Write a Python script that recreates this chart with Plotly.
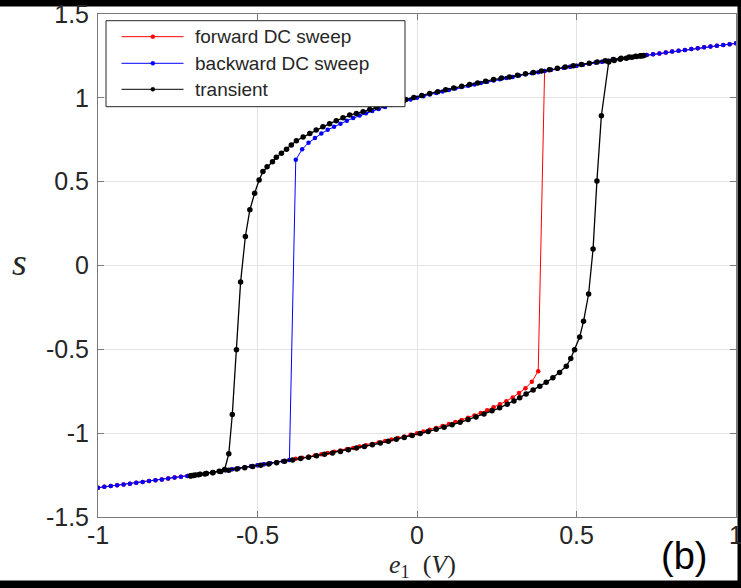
import plotly.graph_objects as go

# ---------------------------------------------------------------- data
# DC sweep input voltage e1 (V)
SWEEP_V = [
    -1.00, -0.98, -0.96, -0.94, -0.92, -0.90, -0.88, -0.86, -0.84, -0.82,
    -0.80, -0.78, -0.76, -0.74, -0.72, -0.70, -0.68, -0.66, -0.64, -0.62,
    -0.60, -0.58, -0.56, -0.54, -0.52, -0.50, -0.48, -0.46, -0.44, -0.42,
    -0.40, -0.38, -0.36, -0.34, -0.32, -0.30, -0.28, -0.26, -0.24, -0.22,
    -0.20, -0.18, -0.16, -0.14, -0.12, -0.10, -0.08, -0.06, -0.04, -0.02,
    0.00, 0.02, 0.04, 0.06, 0.08, 0.10, 0.12, 0.14, 0.16, 0.18,
    0.20, 0.22, 0.24, 0.26, 0.28, 0.30, 0.32, 0.34, 0.36, 0.38,
    0.40, 0.42, 0.44, 0.46, 0.48, 0.50, 0.52, 0.54, 0.56, 0.58,
    0.60, 0.62, 0.64, 0.66, 0.68, 0.70, 0.72, 0.74, 0.76, 0.78,
    0.80, 0.82, 0.84, 0.86, 0.88, 0.90, 0.92, 0.94, 0.96, 0.98, 1.00,
]

# state s along the forward sweep (e1 rising from -1 to 1)
FWD_S = [
    -1.325, -1.320, -1.315, -1.311, -1.306, -1.301, -1.296, -1.291, -1.286, -1.281,
    -1.276, -1.270, -1.265, -1.260, -1.255, -1.249, -1.244, -1.238, -1.233, -1.227,
    -1.221, -1.215, -1.210, -1.204, -1.198, -1.192, -1.185, -1.179, -1.173, -1.167,
    -1.160, -1.153, -1.146, -1.140, -1.133, -1.125, -1.118, -1.111, -1.104, -1.096,
    -1.088, -1.080, -1.072, -1.064, -1.056, -1.047, -1.038, -1.029, -1.020, -1.010,
    -1.000, -0.990, -0.979, -0.969, -0.957, -0.946, -0.934, -0.921, -0.908, -0.894,
    -0.879, -0.863, -0.846, -0.828, -0.809, -0.787, -0.761, -0.732, -0.693, -0.630,
    1.160, 1.167, 1.173, 1.179, 1.185, 1.192, 1.198, 1.204, 1.210, 1.215,
    1.221, 1.227, 1.233, 1.238, 1.244, 1.249, 1.255, 1.260, 1.265, 1.270,
    1.276, 1.281, 1.286, 1.291, 1.296, 1.301, 1.306, 1.311, 1.315, 1.320, 1.325,
]

# state s along the backward sweep (e1 falling from 1 to -1)
BWD_S = [
    1.325, 1.320, 1.315, 1.311, 1.306, 1.301, 1.296, 1.291, 1.286, 1.281,
    1.276, 1.270, 1.265, 1.260, 1.255, 1.249, 1.244, 1.238, 1.233, 1.227,
    1.221, 1.215, 1.210, 1.204, 1.198, 1.192, 1.185, 1.179, 1.173, 1.167,
    1.160, 1.153, 1.146, 1.140, 1.133, 1.125, 1.118, 1.111, 1.104, 1.096,
    1.088, 1.080, 1.072, 1.064, 1.056, 1.047, 1.038, 1.029, 1.020, 1.010,
    1.000, 0.990, 0.979, 0.969, 0.957, 0.946, 0.934, 0.921, 0.908, 0.894,
    0.879, 0.863, 0.846, 0.828, 0.809, 0.787, 0.761, 0.732, 0.693, 0.630,
    -1.160, -1.167, -1.173, -1.179, -1.185, -1.192, -1.198, -1.204, -1.210, -1.215,
    -1.221, -1.227, -1.233, -1.238, -1.244, -1.249, -1.255, -1.260, -1.265, -1.270,
    -1.276, -1.281, -1.286, -1.291, -1.296, -1.301, -1.306, -1.311, -1.315, -1.320, -1.325,
]

# transient simulation: one full cycle of the sinusoidal input
TRANS_E = [
    -0.710, -0.700, -0.685, -0.665, -0.640, -0.615, -0.590, -0.565, -0.540, -0.515,
    -0.490, -0.465, -0.440, -0.415, -0.390, -0.365, -0.340, -0.315, -0.290, -0.265,
    -0.240, -0.215, -0.190, -0.165, -0.140, -0.115, -0.090, -0.065, -0.040, -0.015,
    0.010, 0.035, 0.060, 0.085, 0.110, 0.135, 0.160, 0.185, 0.210, 0.235,
    0.259, 0.283, 0.304, 0.322, 0.342, 0.364, 0.385, 0.405, 0.426, 0.447,
    0.468, 0.482, 0.494, 0.510, 0.522, 0.538, 0.552, 0.564, 0.578, 0.601,
    0.618, 0.637, 0.656, 0.674, 0.689, 0.701, 0.708, 0.711,
    0.700, 0.685, 0.665, 0.640, 0.615, 0.590, 0.565, 0.540, 0.515, 0.490,
    0.465, 0.440, 0.415, 0.390, 0.365, 0.340, 0.315, 0.290, 0.265, 0.240,
    0.215, 0.190, 0.165, 0.140, 0.115, 0.090, 0.065, 0.040, 0.015, -0.010,
    -0.035, -0.060, -0.085, -0.106, -0.127, -0.148, -0.169, -0.190, -0.211, -0.232,
    -0.253, -0.274, -0.295, -0.316, -0.336, -0.357, -0.378, -0.394, -0.409, -0.425,
    -0.441, -0.453, -0.470, -0.483, -0.495, -0.509, -0.524, -0.538, -0.553, -0.566,
    -0.579, -0.590, -0.603, -0.620, -0.640, -0.660, -0.680, -0.695, -0.705, -0.710,
]
TRANS_S = [
    -1.255, -1.252, -1.248, -1.243, -1.236, -1.229, -1.221, -1.214, -1.207, -1.199,
    -1.192, -1.184, -1.176, -1.168, -1.160, -1.151, -1.143, -1.134, -1.125, -1.118,
    -1.109, -1.099, -1.089, -1.079, -1.069, -1.059, -1.048, -1.037, -1.026, -1.014,
    -1.002, -0.990, -0.977, -0.964, -0.950, -0.935, -0.919, -0.903, -0.886, -0.867,
    -0.849, -0.828, -0.808, -0.789, -0.766, -0.743, -0.720, -0.697, -0.670, -0.638,
    -0.601, -0.555, -0.502, -0.426, -0.333, -0.170, 0.099, 0.504, 0.893, 1.214,
    1.223, 1.230, 1.236, 1.242, 1.246, 1.249, 1.251, 1.252,
    1.251, 1.248, 1.243, 1.236, 1.229, 1.221, 1.214, 1.207, 1.199, 1.192,
    1.184, 1.176, 1.168, 1.160, 1.151, 1.143, 1.134, 1.125, 1.118, 1.109,
    1.099, 1.089, 1.079, 1.069, 1.059, 1.048, 1.037, 1.026, 1.014, 1.002,
    0.990, 0.977, 0.966, 0.955, 0.943, 0.930, 0.917, 0.907, 0.897, 0.881,
    0.863, 0.846, 0.827, 0.808, 0.788, 0.766, 0.744, 0.718, 0.693, 0.669,
    0.645, 0.619, 0.589, 0.560, 0.510, 0.431, 0.332, 0.173, -0.099, -0.502,
    -0.889, -1.123, -1.216, -1.227, -1.234, -1.240, -1.245, -1.249, -1.252, -1.254,
]

SERIES_NAMES = ["forward DC sweep", "backward DC sweep", "transient"]
SERIES_COLORS = ["#ff0000", "#0000ff", "#000000"]

X_TICKS = [-1, -0.5, 0, 0.5, 1]
X_TICK_TEXT = ["-1", "-0.5", "0", "0.5", "1"]
Y_TICKS = [-1.5, -1, -0.5, 0, 0.5, 1, 1.5]
Y_TICK_TEXT = ["-1.5", "-1", "-0.5", "0", "0.5", "1", "1.5"]

# ---------------------------------------------------------------- geometry
W, H = 741, 588
M = dict(l=98, r=5, t=14, b=71)


def fx(px):
    """pixel column -> paper x"""
    return (px - M["l"]) / (W - M["l"] - M["r"])


def fy(py):
    """pixel row -> paper y"""
    return (H - M["b"] - py) / (H - M["t"] - M["b"])


# ---------------------------------------------------------------- figure
fig = go.Figure()

fig.add_trace(go.Scatter(
    x=SWEEP_V, y=FWD_S, mode="lines+markers", name=SERIES_NAMES[0],
    line=dict(color=SERIES_COLORS[0], width=1),
    marker=dict(color=SERIES_COLORS[0], size=4.5), showlegend=False))
fig.add_trace(go.Scatter(
    x=SWEEP_V[::-1], y=BWD_S, mode="lines+markers", name=SERIES_NAMES[1],
    line=dict(color=SERIES_COLORS[1], width=1),
    marker=dict(color=SERIES_COLORS[1], size=4.5), showlegend=False))
fig.add_trace(go.Scatter(
    x=TRANS_E, y=TRANS_S, mode="lines+markers", name=SERIES_NAMES[2],
    line=dict(color=SERIES_COLORS[2], width=1.3),
    marker=dict(color=SERIES_COLORS[2], size=5.5), showlegend=False))

axis_style = dict(
    showgrid=True, gridcolor="#e3e3e3", gridwidth=1, zeroline=False,
    showline=True, linecolor="#7a7a7a", linewidth=1, mirror="ticks",
    ticks="inside", ticklen=6, tickcolor="#7a7a7a", tickwidth=1,
    ticklabeloverflow="allow", automargin=False,
    tickfont=dict(family="Liberation Sans, Arial, sans-serif", size=25, color="#262626"),
)
fig.update_xaxes(range=[-1, 1], tickmode="array", tickvals=X_TICKS,
                 ticktext=X_TICK_TEXT, ticklabelstandoff=-4, **axis_style)
fig.update_yaxes(range=[-1.5, 1.5], tickmode="array", tickvals=Y_TICKS,
                 ticktext=Y_TICK_TEXT, ticklabelstandoff=3, **axis_style)

shapes = [
    # white page inside the dark frame
    dict(type="rect", xref="paper", yref="paper", layer="below",
         x0=fx(0), x1=fx(737.5), y0=fy(580.5), y1=fy(6.5),
         fillcolor="white", line=dict(width=0)),
    # legend box
    dict(type="rect", xref="paper", yref="paper", layer="above",
         x0=fx(106), x1=fx(405), y0=fy(106.7), y1=fy(20.7),
         fillcolor="white", line=dict(color="#262626", width=1)),
]
annotations = []
legend_rows = [36.7, 63.3, 89.3]
for name, color, row in zip(SERIES_NAMES, SERIES_COLORS, legend_rows):
    shapes.append(dict(type="line", xref="paper", yref="paper", layer="above",
                       x0=fx(121.5), x1=fx(183.5), y0=fy(row), y1=fy(row),
                       line=dict(color=color, width=1)))
    shapes.append(dict(type="circle", xref="paper", yref="paper", layer="above",
                       x0=fx(150.8), x1=fx(154.8), y0=fy(row + 2), y1=fy(row - 2),
                       fillcolor=color, line=dict(color=color, width=0.5)))
    annotations.append(dict(xref="paper", yref="paper", x=fx(192.5), y=fy(row),
                            xanchor="left", yanchor="middle", showarrow=False,
                            text=name,
                            font=dict(family="Liberation Sans, Arial, sans-serif",
                                      size=19, color="#262626")))

annotations += [
    dict(xref="paper", yref="paper", x=fx(19.5), y=fy(262), showarrow=False,
         xanchor="center", yanchor="middle", text="<i>s</i>",
         font=dict(family="Liberation Serif, Times New Roman, serif", size=38, color="#262626")),
    dict(xref="paper", yref="paper", x=fx(422), y=fy(566), showarrow=False,
         xanchor="center", yanchor="middle",
         text="<i>e</i><sub>1</sub>\u00a0\u00a0(<i>V</i>)",
         font=dict(family="Liberation Serif, Times New Roman, serif", size=26, color="#262626")),
    dict(xref="paper", yref="paper", x=fx(684), y=fy(556), showarrow=False,
         xanchor="center", yanchor="middle", text="(b)",
         font=dict(family="Liberation Sans, Arial, sans-serif", size=38, color="#000000")),
]

fig.update_layout(
    width=W, height=H, margin=M,
    paper_bgcolor="#000000", plot_bgcolor="#ffffff",
    shapes=shapes, annotations=annotations, showlegend=False,
)

fig.write_html("out.html")
